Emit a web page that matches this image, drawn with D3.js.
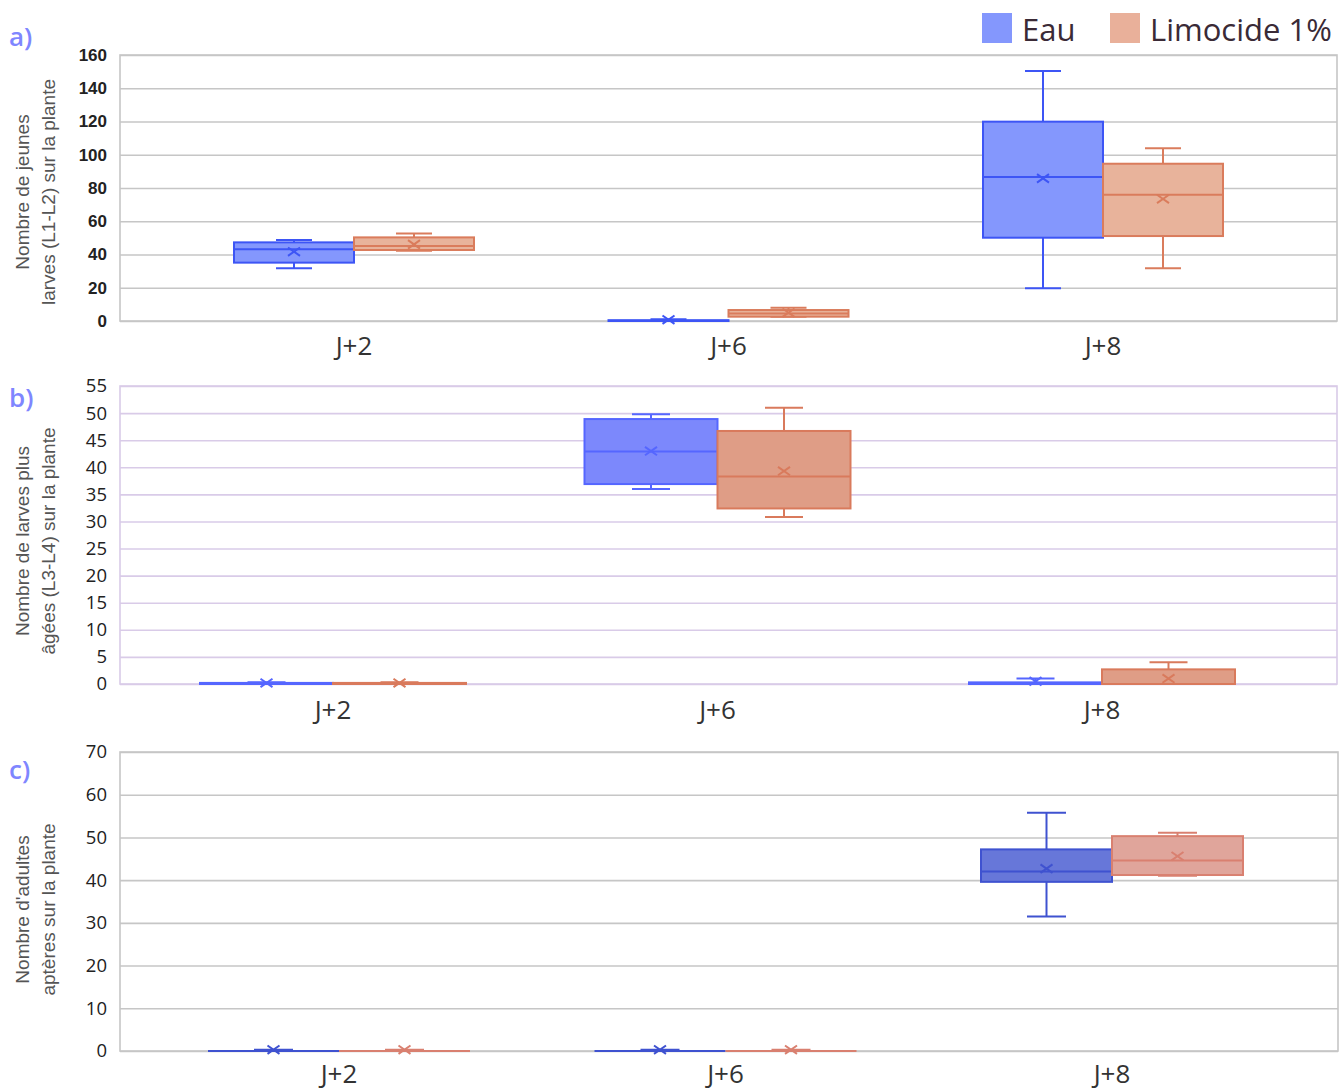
<!DOCTYPE html>
<html>
<head>
<meta charset="utf-8">
<script src="https://cdn.jsdelivr.net/npm/d3@7"></script>
<style>
  body { margin: 0; background: #fff; }
  svg { display: block; }
</style>
</head>
<body>
<svg id="chart" width="1343" height="1090"></svg>
<script>
// Categories and series
const categories = ["J+2", "J+6", "J+8"];
const seriesNames = ["Eau", "Limocide 1%"];

// Box statistics per category: [min, q1, median, q3, max, mean]
const jeunesEau      = [[31.7, 35.1, 43.1, 47.3, 48.7, 41.7], [0, 0, 0, 0.5, 1, 0.8], [19.7, 50.1, 86.6, 119.9, 150.4, 85.8]];
const jeunesLimocide = [[42.3, 42.7, 45.1, 50.3, 52.7, 46.1], [2.5, 2.6, 4.5, 6.6, 8, 5], [31.7, 51.1, 76, 94.6, 103.9, 73.4]];

const ageesEau       = [[0, 0, 0, 0.2, 0.3, 0.2], [36, 36.9, 42.9, 48.9, 49.8, 43], [0, 0, 0, 0.3, 1, 0.5]];
const ageesLimocide  = [[0, 0, 0, 0.2, 0.3, 0.2], [30.8, 32.4, 38.3, 46.7, 51, 39.3], [0, 0, 0, 2.7, 4, 1]];

const adultesEau      = [[0, 0, 0, 0, 0.3, 0.3], [0, 0, 0, 0, 0.3, 0.3], [31.5, 39.6, 42, 47.2, 55.8, 42.7]];
const adultesLimocide = [[0, 0, 0, 0, 0.3, 0.3], [0, 0, 0, 0, 0.3, 0.3], [41, 41.2, 44.6, 50.3, 51.1, 45.6]];

// Y axis domains and tick steps
const yMax  = [160, 55, 70];
const yStep = [20, 5, 10];
const panelTags = ["a)", "b)", "c)"];
const yTitles = [
  ["Nombre de jeunes", "larves (L1-L2) sur la plante"],
  ["Nombre de larves plus", "âgées (L3-L4) sur la plante"],
  ["Nombre d'adultes", "aptères sur la plante"]
];

// Panel layout and styling
const panels = [
  { data: [jeunesEau, jeunesLimocide], left: 120, right: 1337, top: 55, bottom: 321,
    first: 354, last: 1103, boxW: 120, capW: 36, labelY: 355, tagY: 46, grid: "#c6c6c6",
    fill: ["#8497fd", "#e8b39b"], stroke: ["#3d55f5", "#da7c5c"],
    tickFont: "'Liberation Sans', Arial, sans-serif", tickSize: 17, tickWeight: 600 },
  { data: [ageesEau, ageesLimocide], left: 120, right: 1337, top: 386, bottom: 684,
    first: 333, last: 1102, boxW: 133, capW: 38, labelY: 719, tagY: 407, grid: "#d9cbe8",
    fill: ["#7c88fc", "#df9d86"], stroke: ["#5566ff", "#d97a5c"],
    tickFont: "'Open Sans', sans-serif", tickSize: 18.5, tickWeight: 400 },
  { data: [adultesEau, adultesLimocide], left: 120, right: 1338, top: 752, bottom: 1051,
    first: 339, last: 1112, boxW: 131, capW: 39, labelY: 1083, tagY: 779, grid: "#c6c6c6",
    fill: ["#6777d9", "#e0a59b"], stroke: ["#3f52d0", "#d98070"],
    tickFont: "'Open Sans', sans-serif", tickSize: 18.5, tickWeight: 400 }
];

const svg = d3.select("#chart");

panels.forEach((p, pi) => {
  const g = svg.append("g");
  const y = d3.scaleLinear().domain([0, yMax[pi]]).range([p.bottom, p.top]);
  const x = d3.scalePoint().domain(categories).range([p.first, p.last]);
  const w = p.right - p.left;

  // Grid lines with tick labels
  const ticks = d3.range(0, yMax[pi] + 0.001, yStep[pi]);
  const ax = g.append("g")
    .attr("transform", `translate(${p.left},0)`)
    .call(d3.axisLeft(y).tickValues(ticks).tickSize(-w).tickPadding(13).tickFormat(d3.format("d")));
  ax.select(".domain").remove();
  ax.selectAll(".tick line").attr("stroke", p.grid).attr("stroke-width", 1.6);
  ax.selectAll(".tick text")
    .attr("fill", "#222")
    .style("font-family", p.tickFont)
    .style("font-size", p.tickSize + "px")
    .style("font-weight", p.tickWeight);

  // Plot frame
  g.append("rect")
    .attr("x", p.left).attr("y", p.top)
    .attr("width", w).attr("height", p.bottom - p.top)
    .attr("fill", "none").attr("stroke", p.grid).attr("stroke-width", 1.6);

  // Category labels
  g.selectAll(".cat").data(categories).join("text")
    .attr("x", d => x(d)).attr("y", p.labelY)
    .attr("text-anchor", "middle")
    .attr("fill", "#333")
    .style("font-family", "'Open Sans', sans-serif")
    .style("font-size", "26px")
    .text(d => d);

  // Boxes for each series
  p.data.forEach((series, si) => {
    const sg = g.append("g");
    const fill = p.fill[si], stroke = p.stroke[si];
    series.forEach((s, ci) => {
      const [mn, q1, med, q3, mx, mean] = s;
      const cx = x(categories[ci]);
      const x0 = si === 0 ? cx - p.boxW : cx;
      const mid = x0 + p.boxW / 2;
      // whiskers
      sg.append("line").attr("x1", mid).attr("x2", mid).attr("y1", y(mx)).attr("y2", y(q3))
        .attr("stroke", stroke).attr("stroke-width", 2);
      sg.append("line").attr("x1", mid).attr("x2", mid).attr("y1", y(q1)).attr("y2", y(mn))
        .attr("stroke", stroke).attr("stroke-width", 2);
      sg.append("line").attr("x1", mid - p.capW / 2).attr("x2", mid + p.capW / 2).attr("y1", y(mx)).attr("y2", y(mx))
        .attr("stroke", stroke).attr("stroke-width", 2);
      sg.append("line").attr("x1", mid - p.capW / 2).attr("x2", mid + p.capW / 2).attr("y1", y(mn)).attr("y2", y(mn))
        .attr("stroke", stroke).attr("stroke-width", 2);
      // box
      sg.append("rect")
        .attr("x", x0).attr("y", y(q3))
        .attr("width", p.boxW).attr("height", Math.max(0, y(q1) - y(q3)))
        .attr("fill", fill).attr("stroke", stroke).attr("stroke-width", 2);
      // median
      sg.append("line").attr("x1", x0).attr("x2", x0 + p.boxW).attr("y1", y(med)).attr("y2", y(med))
        .attr("stroke", stroke).attr("stroke-width", 2);
      // mean marker
      const my = y(mean), r = 6;
      sg.append("path")
        .attr("d", `M${mid - r},${my - r * 0.7}L${mid + r},${my + r * 0.7}M${mid - r},${my + r * 0.7}L${mid + r},${my - r * 0.7}`)
        .attr("stroke", stroke).attr("stroke-width", 2).attr("fill", "none");
    });
  });

  // Panel tag
  svg.append("text")
    .attr("x", 9).attr("y", p.tagY)
    .attr("fill", "#7f86ff")
    .style("font-family", "'Open Sans', sans-serif")
    .style("font-size", "26px")
    .style("font-weight", "600")
    .text(panelTags[pi]);

  // Y axis title (two lines)
  const cy = (p.top + p.bottom) / 2 + 4 + pi * 2;
  yTitles[pi].forEach((line, li) => {
    svg.append("text")
      .attr("transform", `translate(${29 + li * 26},${cy}) rotate(-90)`)
      .attr("text-anchor", "middle")
      .attr("fill", "#555")
      .style("font-family", "'Liberation Sans', Arial, sans-serif")
      .style("font-size", "19px")
      .text(line);
  });
});

// Legend
const legendColors = ["#8497fd", "#e9b09a"];
const legendX = [982, 1110];
seriesNames.forEach((name, i) => {
  svg.append("rect").attr("x", legendX[i]).attr("y", 13).attr("width", 30).attr("height", 30)
    .attr("fill", legendColors[i]);
  svg.append("text").attr("x", legendX[i] + 40).attr("y", 41)
    .attr("fill", "#3a2a36")
    .style("font-family", "'Open Sans', sans-serif")
    .style("font-size", "31px")
    .text(name);
});
</script>
</body>
</html>
